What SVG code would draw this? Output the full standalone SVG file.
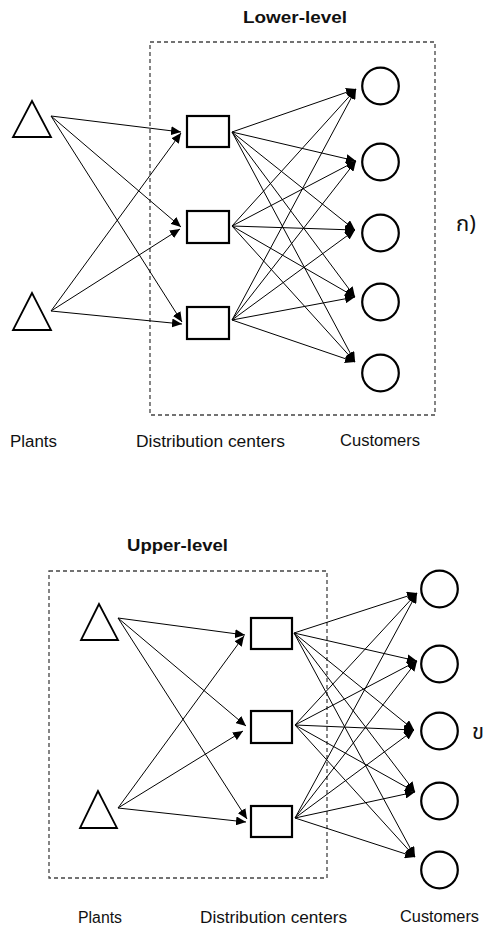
<svg xmlns="http://www.w3.org/2000/svg" width="488" height="928" viewBox="0 0 488 928">
<style>
.bg{fill:#fff}
.frame{fill:none;stroke:#444;stroke-width:1.3;stroke-dasharray:4 3}
.plant{fill:#fff;stroke:#000;stroke-width:1.8;stroke-linejoin:miter}
.dc{fill:#fff;stroke:#000;stroke-width:2.2}
.cust{fill:#fff;stroke:#000;stroke-width:2.2}
.edge{stroke:#000;stroke-width:1;fill:none;marker-end:url(#ah)}
.title{font-family:"Liberation Sans",Arial,sans-serif;font-weight:bold;font-size:17px;fill:#111}
.lbl{font-family:"Liberation Sans",Arial,sans-serif;font-size:16px;fill:#111}
.thai{font-family:"Noto Sans Thai","Noto Sans","DejaVu Sans",sans-serif;font-size:22px;fill:#111}
</style>
<defs>
<marker id="ah" markerUnits="userSpaceOnUse" markerWidth="11" markerHeight="9" refX="10" refY="4.5" orient="auto">
<path d="M0,0 L10,4.5 L0,9 Z" fill="#000"/>
</marker>
</defs>
<rect class="bg" x="0" y="0" width="488" height="928"/>

<!-- ===== Lower-level (top) ===== -->
<g id="lower-frame">
<rect class="frame" x="150" y="42" width="285" height="373"/>
<text class="title" x="243" y="23" textLength="104" lengthAdjust="spacingAndGlyphs">Lower-level</text>
</g>
<g id="lower-connectors">
<line class="edge" x1="51" y1="116" x2="181" y2="132"/>
<line class="edge" x1="51" y1="116" x2="181" y2="227"/>
<line class="edge" x1="51" y1="116" x2="182" y2="322"/>
<line class="edge" x1="51" y1="311" x2="181" y2="133"/>
<line class="edge" x1="51" y1="311" x2="180" y2="229"/>
<line class="edge" x1="51" y1="311" x2="182" y2="324"/>

<line class="edge" x1="232" y1="132" x2="356" y2="89"/>
<line class="edge" x1="232" y1="132" x2="356" y2="161"/>
<line class="edge" x1="232" y1="132" x2="355" y2="230"/>
<line class="edge" x1="232" y1="132" x2="355" y2="297"/>
<line class="edge" x1="232" y1="132" x2="355" y2="362"/>
<line class="edge" x1="232" y1="226" x2="356" y2="89"/>
<line class="edge" x1="232" y1="226" x2="356" y2="161"/>
<line class="edge" x1="232" y1="226" x2="355" y2="230"/>
<line class="edge" x1="232" y1="226" x2="355" y2="297"/>
<line class="edge" x1="232" y1="226" x2="355" y2="362"/>
<line class="edge" x1="232" y1="320" x2="356" y2="89"/>
<line class="edge" x1="232" y1="320" x2="356" y2="161"/>
<line class="edge" x1="232" y1="320" x2="355" y2="230"/>
<line class="edge" x1="232" y1="320" x2="355" y2="297"/>
<line class="edge" x1="232" y1="320" x2="355" y2="362"/>
</g>
<g id="L-plant1"><polygon class="plant" points="32,101 13,137 51,137"/></g>
<g id="L-plant2"><polygon class="plant" points="32,293 13,330 51,330"/></g>
<g id="L-dc1"><rect class="dc" x="187" y="116" width="42" height="31"/></g>
<g id="L-dc2"><rect class="dc" x="187" y="211" width="42" height="32"/></g>
<g id="L-dc3"><rect class="dc" x="187" y="307" width="42" height="32"/></g>
<g id="L-c1"><circle class="cust" cx="380.5" cy="86" r="18.3"/></g>
<g id="L-c2"><circle class="cust" cx="380.5" cy="162" r="18.3"/></g>
<g id="L-c3"><circle class="cust" cx="380.5" cy="233" r="18.3"/></g>
<g id="L-c4"><circle class="cust" cx="380.5" cy="302" r="18.3"/></g>
<g id="L-c5"><circle class="cust" cx="380.5" cy="373" r="18.3"/></g>
<g id="L-labels">
<text class="lbl" x="10" y="447" textLength="47" lengthAdjust="spacingAndGlyphs">Plants</text>
<text class="lbl" x="136" y="447" textLength="149" lengthAdjust="spacingAndGlyphs">Distribution centers</text>
<text class="lbl" x="340" y="446" textLength="80" lengthAdjust="spacingAndGlyphs">Customers</text>
<text class="thai" x="456" y="231">ก)</text>
</g>

<!-- ===== Upper-level (bottom) ===== -->
<g id="upper-frame">
<rect class="frame" x="49" y="571" width="278" height="307"/>
<text class="title" x="127" y="551" textLength="101" lengthAdjust="spacingAndGlyphs">Upper-level</text>
</g>
<g id="upper-connectors">
<line class="edge" x1="118" y1="618" x2="245" y2="635"/>
<line class="edge" x1="118" y1="618" x2="246" y2="726"/>
<line class="edge" x1="118" y1="618" x2="247" y2="819"/>
<line class="edge" x1="118" y1="808" x2="244" y2="636"/>
<line class="edge" x1="118" y1="808" x2="243" y2="731"/>
<line class="edge" x1="118" y1="808" x2="246" y2="822"/>

<line class="edge" x1="294" y1="633" x2="417" y2="593"/>
<line class="edge" x1="294" y1="633" x2="417" y2="661"/>
<line class="edge" x1="294" y1="633" x2="414" y2="730"/>
<line class="edge" x1="294" y1="633" x2="415" y2="792"/>
<line class="edge" x1="294" y1="633" x2="415" y2="857"/>
<line class="edge" x1="295" y1="725" x2="417" y2="593"/>
<line class="edge" x1="295" y1="725" x2="417" y2="661"/>
<line class="edge" x1="295" y1="725" x2="414" y2="730"/>
<line class="edge" x1="295" y1="725" x2="415" y2="792"/>
<line class="edge" x1="295" y1="725" x2="415" y2="857"/>
<line class="edge" x1="295" y1="818" x2="417" y2="593"/>
<line class="edge" x1="295" y1="818" x2="417" y2="661"/>
<line class="edge" x1="295" y1="818" x2="414" y2="730"/>
<line class="edge" x1="295" y1="818" x2="415" y2="792"/>
<line class="edge" x1="295" y1="818" x2="415" y2="857"/>
</g>
<g id="U-plant1"><polygon class="plant" points="99,604 81,640 118,640"/></g>
<g id="U-plant2"><polygon class="plant" points="98,791 80,828 117,828"/></g>
<g id="U-dc1"><rect class="dc" x="251" y="618" width="41" height="31"/></g>
<g id="U-dc2"><rect class="dc" x="251" y="711" width="41" height="32"/></g>
<g id="U-dc3"><rect class="dc" x="251" y="806" width="41" height="31"/></g>
<g id="U-c1"><circle class="cust" cx="439.5" cy="589" r="18.3"/></g>
<g id="U-c2"><circle class="cust" cx="439.5" cy="664" r="18.3"/></g>
<g id="U-c3"><circle class="cust" cx="439.5" cy="731" r="18.3"/></g>
<g id="U-c4"><circle class="cust" cx="439.5" cy="801" r="18.3"/></g>
<g id="U-c5"><circle class="cust" cx="439.5" cy="870" r="18.3"/></g>
<g id="U-labels">
<text class="lbl" x="78" y="923" textLength="44" lengthAdjust="spacingAndGlyphs">Plants</text>
<text class="lbl" x="200" y="923" textLength="147" lengthAdjust="spacingAndGlyphs">Distribution centers</text>
<text class="lbl" x="400" y="922" textLength="79" lengthAdjust="spacingAndGlyphs">Customers</text>
<text class="thai" x="472" y="739">ข</text>
</g>
</svg>
